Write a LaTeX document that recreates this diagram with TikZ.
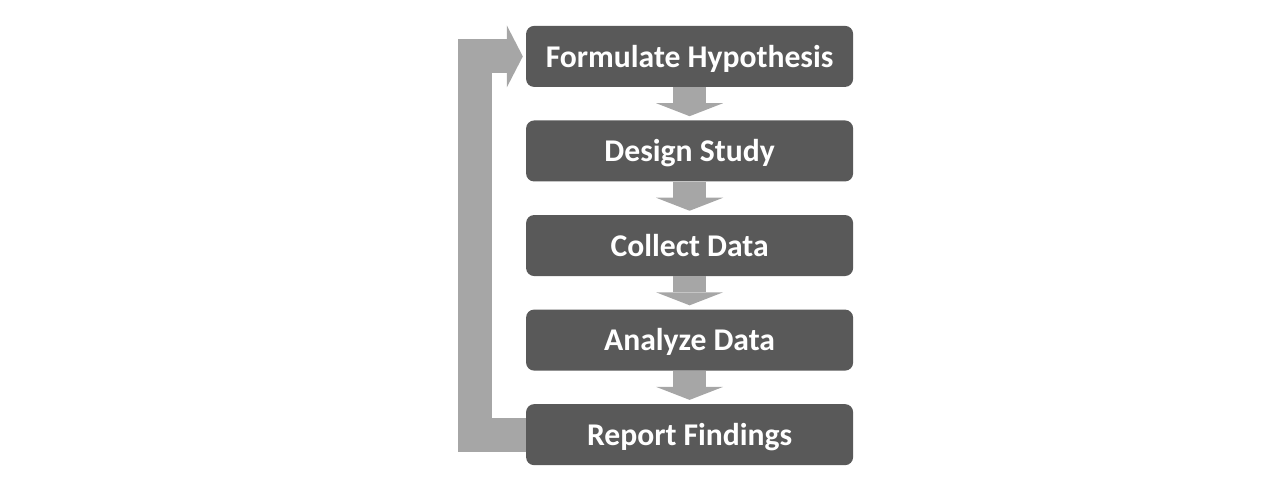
\documentclass[tikz,border=0pt]{standalone}
\usepackage{fontspec}
\setmainfont{Carlito}
\usepackage{xcolor}
\usetikzlibrary{arrows.meta,positioning}
\definecolor{boxgray}{HTML}{595959}
\definecolor{arrowgray}{HTML}{A6A6A6}

\begin{document}
\begin{tikzpicture}[>=Triangle,
box/.style={fill=boxgray,rounded corners=0.2cm,minimum width=8.175cm,minimum height=1.525cm,inner sep=0pt,text height=0.54cm,text depth=0cm,text=white,font=\fontsize{22.5}{27}\selectfont\bfseries},
flow/.style={draw=arrowgray,line width=0.825cm,-{Triangle[length=0.325cm,width=1.675cm,line width=0pt]}},
loopback/.style={draw=arrowgray,line width=0.85cm,line join=miter,-{Triangle[length=0.4cm,width=1.55cm,line width=0pt]}}]
\useasboundingbox (0,0) rectangle (32,-12.2);
\node[box] (f) at (17.24,-1.41) {Formulate Hypothesis};
\node[box,below=0.825cm of f] (d) {Design Study};
\node[box,below=0.825cm of d] (c) {Collect Data};
\node[box,below=0.825cm of c] (a) {Analyze Data};
\node[box,below=0.825cm of a] (r) {Report Findings};
\draw[flow] (f.south) -- ([yshift=0.1cm]d.north);
\draw[flow] (d.south) -- ([yshift=0.1cm]c.north);
\draw[flow] (c.south) -- ([yshift=0.1cm]a.north);
\draw[flow] (a.south) -- ([yshift=0.1cm]r.north);
\draw[loopback] (r.west) -- ++(-1.275cm,0) |- ([xshift=-0.075cm]f.west);
\end{tikzpicture}
\end{document}
